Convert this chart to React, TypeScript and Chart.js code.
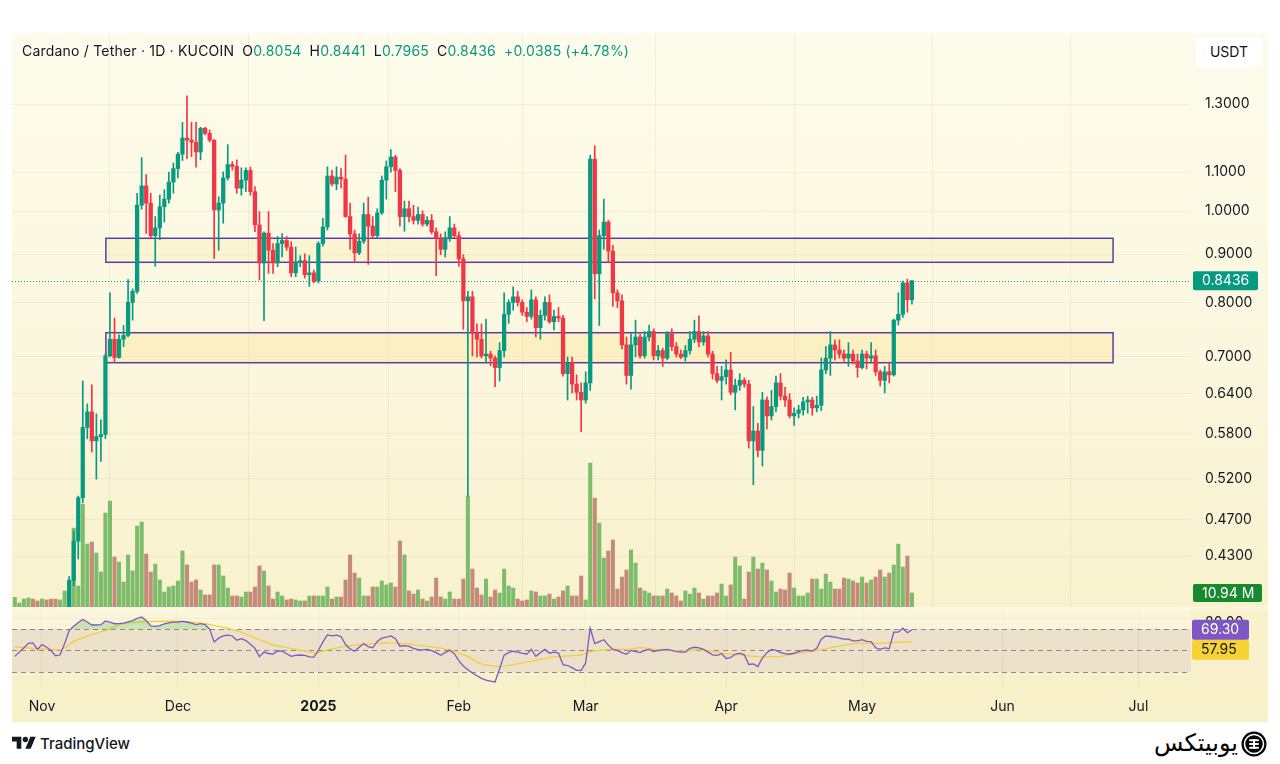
import React, { useEffect, useRef } from "react";
import { Chart, registerables } from "chart.js";

Chart.register(...registerables);

// ---------- data (day index 0 = 2024-11-01, first candle = 2024-10-26) ----------
const FIRST_DAY = -6;

const open = [
  0.343, 0.350, 0.352, 0.358, 0.362, 0.355, 0.336, 0.338, 0.330, 0.322,
  0.318, 0.336, 0.376, 0.405, 0.446, 0.496, 0.589, 0.612, 0.570, 0.576,
  0.579, 0.702, 0.731, 0.699, 0.731, 0.738, 0.800, 0.822, 1.015, 1.064,
  1.020, 0.942, 0.960, 1.011, 1.030, 1.074, 1.110, 1.150, 1.196, 1.190,
  1.184, 1.156, 1.225, 1.210, 1.190, 1.003, 1.020, 1.085, 1.121, 1.116,
  1.058, 1.079, 1.105, 1.049, 0.967, 0.881, 0.948, 0.909, 0.881, 0.924,
  0.931, 0.916, 0.860, 0.882, 0.886, 0.856, 0.860, 0.843, 0.924, 0.962,
  1.090, 1.069, 1.087, 1.082, 0.987, 0.946, 0.903, 0.929, 0.992, 0.964,
  0.942, 0.996, 1.079, 1.115, 1.142, 1.105, 0.987, 1.006, 0.987, 0.978,
  0.992, 0.969, 0.978, 0.951, 0.937, 0.911, 0.937, 0.960, 0.942, 0.890,
  0.803, 0.811, 0.742, 0.731, 0.702, 0.705, 0.698, 0.682, 0.711, 0.777,
  0.800, 0.811, 0.800, 0.781, 0.773, 0.805, 0.752, 0.775, 0.800, 0.763,
  0.773, 0.770, 0.672, 0.690, 0.655, 0.642, 0.630, 0.657, 1.136, 0.858,
  0.942, 0.974, 0.907, 0.819, 0.803, 0.721, 0.669, 0.721, 0.735, 0.702,
  0.735, 0.745, 0.702, 0.711, 0.698, 0.741, 0.718, 0.705, 0.700, 0.711,
  0.731, 0.745, 0.726, 0.737, 0.705, 0.672, 0.661, 0.667, 0.678, 0.642,
  0.653, 0.661, 0.655, 0.570, 0.584, 0.557, 0.630, 0.606, 0.620, 0.657,
  0.636, 0.630, 0.606, 0.610, 0.615, 0.627, 0.630, 0.618, 0.622, 0.678,
  0.698, 0.721, 0.712, 0.705, 0.698, 0.705, 0.693, 0.682, 0.705, 0.698,
  0.702, 0.675, 0.661, 0.675, 0.670, 0.766, 0.777, 0.839, 0.8054,
];

const high = [
  0.352, 0.355, 0.360, 0.366, 0.364, 0.357, 0.342, 0.340, 0.334, 0.326,
  0.338, 0.378, 0.409, 0.457, 0.498, 0.660, 0.624, 0.654, 0.609, 0.600,
  0.706, 0.819, 0.770, 0.739, 0.756, 0.846, 0.827, 1.045, 1.140, 1.094,
  1.045, 0.987, 1.040, 1.054, 1.100, 1.125, 1.155, 1.243, 1.326, 1.243,
  1.243, 1.228, 1.228, 1.220, 1.192, 1.036, 1.101, 1.177, 1.129, 1.134,
  1.112, 1.112, 1.114, 1.062, 0.999, 0.951, 0.999, 0.924, 0.940, 0.947,
  0.940, 0.928, 0.916, 0.897, 0.901, 0.897, 0.866, 0.928, 0.983, 1.115,
  1.105, 1.115, 1.110, 1.147, 1.020, 0.955, 0.946, 1.020, 1.035, 0.987,
  1.006, 1.090, 1.131, 1.163, 1.147, 1.110, 1.025, 1.025, 1.015, 1.010,
  1.001, 0.987, 0.992, 0.960, 0.946, 0.951, 0.987, 0.969, 0.951, 0.899,
  0.822, 0.822, 0.759, 0.759, 0.768, 0.710, 0.702, 0.725, 0.819, 0.805,
  0.831, 0.822, 0.805, 0.790, 0.825, 0.811, 0.785, 0.811, 0.815, 0.785,
  0.790, 0.775, 0.700, 0.700, 0.670, 0.657, 0.675, 1.147, 1.174, 0.955,
  1.030, 0.978, 0.920, 0.825, 0.815, 0.735, 0.741, 0.766, 0.740, 0.745,
  0.757, 0.750, 0.720, 0.715, 0.745, 0.750, 0.725, 0.712, 0.720, 0.745,
  0.766, 0.774, 0.745, 0.745, 0.710, 0.684, 0.684, 0.695, 0.708, 0.663,
  0.672, 0.665, 0.661, 0.620, 0.595, 0.642, 0.635, 0.645, 0.668, 0.672,
  0.650, 0.640, 0.618, 0.622, 0.634, 0.636, 0.634, 0.636, 0.698, 0.718,
  0.745, 0.730, 0.730, 0.712, 0.725, 0.712, 0.705, 0.712, 0.710, 0.725,
  0.712, 0.678, 0.684, 0.690, 0.768, 0.819, 0.843, 0.847, 0.8441,
];

const low = [
  0.340, 0.346, 0.349, 0.354, 0.350, 0.333, 0.330, 0.326, 0.318, 0.314,
  0.316, 0.334, 0.372, 0.400, 0.427, 0.490, 0.573, 0.555, 0.519, 0.542,
  0.573, 0.700, 0.691, 0.698, 0.718, 0.735, 0.766, 0.818, 1.005, 0.947,
  0.937, 0.874, 0.933, 0.974, 1.020, 1.045, 1.085, 1.132, 1.137, 1.143,
  1.114, 1.134, 1.205, 1.185, 0.891, 0.909, 0.971, 1.079, 1.106, 1.045,
  1.040, 1.049, 1.040, 0.951, 0.845, 0.765, 0.859, 0.859, 0.873, 0.894,
  0.909, 0.852, 0.852, 0.873, 0.849, 0.832, 0.839, 0.839, 0.918, 0.955,
  1.064, 1.054, 1.059, 0.985, 0.911, 0.882, 0.899, 0.924, 0.878, 0.937,
  0.937, 0.992, 1.030, 1.100, 1.049, 0.964, 0.952, 0.974, 0.969, 0.969,
  0.964, 0.964, 0.946, 0.854, 0.899, 0.894, 0.929, 0.937, 0.874, 0.749,
  0.498, 0.702, 0.700, 0.698, 0.690, 0.685, 0.651, 0.660, 0.700, 0.760,
  0.785, 0.793, 0.775, 0.763, 0.768, 0.735, 0.731, 0.766, 0.760, 0.748,
  0.763, 0.668, 0.630, 0.641, 0.630, 0.583, 0.625, 0.645, 0.807, 0.756,
  0.911, 0.882, 0.792, 0.790, 0.714, 0.655, 0.647, 0.700, 0.698, 0.698,
  0.728, 0.695, 0.695, 0.684, 0.695, 0.711, 0.700, 0.697, 0.693, 0.705,
  0.725, 0.718, 0.720, 0.700, 0.663, 0.657, 0.630, 0.655, 0.638, 0.615,
  0.645, 0.650, 0.560, 0.512, 0.548, 0.536, 0.587, 0.600, 0.612, 0.630,
  0.620, 0.603, 0.592, 0.603, 0.607, 0.610, 0.607, 0.612, 0.614, 0.672,
  0.669, 0.695, 0.698, 0.693, 0.684, 0.688, 0.666, 0.680, 0.680, 0.690,
  0.669, 0.652, 0.641, 0.657, 0.668, 0.757, 0.771, 0.781, 0.7965,
];

const close = [
  0.350, 0.352, 0.358, 0.362, 0.355, 0.336, 0.338, 0.330, 0.322, 0.318,
  0.336, 0.376, 0.405, 0.446, 0.496, 0.589, 0.612, 0.570, 0.576, 0.579,
  0.702, 0.731, 0.699, 0.731, 0.738, 0.800, 0.822, 1.015, 1.064, 1.020,
  0.942, 0.960, 1.011, 1.030, 1.074, 1.110, 1.150, 1.196, 1.190, 1.184,
  1.156, 1.225, 1.210, 1.190, 1.003, 1.020, 1.085, 1.121, 1.116, 1.058,
  1.079, 1.105, 1.049, 0.967, 0.881, 0.948, 0.909, 0.881, 0.924, 0.931,
  0.916, 0.860, 0.882, 0.886, 0.856, 0.860, 0.843, 0.924, 0.962, 1.090,
  1.069, 1.087, 1.082, 0.987, 0.946, 0.903, 0.929, 0.992, 0.964, 0.942,
  0.996, 1.079, 1.115, 1.142, 1.105, 0.987, 1.006, 0.987, 0.978, 0.992,
  0.969, 0.978, 0.951, 0.937, 0.911, 0.937, 0.960, 0.942, 0.890, 0.803,
  0.811, 0.742, 0.731, 0.702, 0.705, 0.698, 0.682, 0.711, 0.777, 0.800,
  0.811, 0.800, 0.781, 0.773, 0.805, 0.752, 0.775, 0.800, 0.763, 0.773,
  0.770, 0.672, 0.690, 0.655, 0.642, 0.630, 0.657, 1.136, 0.858, 0.942,
  0.974, 0.907, 0.819, 0.803, 0.721, 0.669, 0.721, 0.735, 0.702, 0.735,
  0.745, 0.702, 0.711, 0.698, 0.741, 0.718, 0.705, 0.700, 0.711, 0.731,
  0.745, 0.726, 0.737, 0.705, 0.672, 0.661, 0.667, 0.678, 0.642, 0.653,
  0.661, 0.655, 0.570, 0.584, 0.557, 0.630, 0.606, 0.620, 0.657, 0.636,
  0.630, 0.606, 0.610, 0.615, 0.627, 0.630, 0.618, 0.622, 0.678, 0.698,
  0.721, 0.712, 0.705, 0.698, 0.705, 0.693, 0.682, 0.705, 0.698, 0.702,
  0.675, 0.661, 0.675, 0.670, 0.766, 0.777, 0.839, 0.8051, 0.8436,
];

// volume in millions ADA
const volume = [
  7.5, 3.1, 6.2, 7.0, 6.2, 4.7, 6.2, 5.5, 6.2, 6.2,
  5.5, 12.5, 21.1, 61.6, 16.4, 80.3, 49.1, 50.7, 42.1, 27.3,
  73.3, 82.7, 39.0, 35.1, 19.5, 40.6, 28.1, 63.2, 66.3, 41.3,
  27.3, 33.5, 21.1, 11.7, 15.6, 16.4, 20.3, 43.7, 32.8, 19.5,
  21.1, 13.3, 9.4, 9.4, 32.8, 32.8, 24.2, 14.8, 8.6, 8.6,
  7.8, 11.7, 11.7, 15.6, 32.0, 28.1, 16.4, 6.2, 11.7, 8.6,
  5.5, 6.2, 5.5, 4.7, 4.7, 8.6, 8.6, 8.6, 8.6, 15.6,
  6.2, 7.8, 7.8, 21.1, 40.6, 26.5, 22.6, 8.6, 8.6, 15.6,
  15.6, 20.3, 17.2, 18.7, 15.6, 51.5, 40.6, 12.5, 10.1, 13.3,
  6.2, 4.7, 7.8, 22.6, 7.8, 6.2, 11.7, 6.2, 6.2, 21.8,
  86.6, 29.6, 14.8, 9.4, 21.8, 7.8, 13.3, 10.9, 29.6, 16.4,
  14.8, 6.2, 4.7, 5.5, 12.5, 11.7, 8.6, 8.6, 10.1, 6.2,
  7.8, 12.5, 16.4, 8.6, 8.6, 24.2, 5.5, 112.3, 85.0, 65.5,
  38.2, 43.7, 52.3, 14.0, 23.4, 28.9, 44.5, 34.3, 14.8, 12.5,
  10.9, 8.6, 8.6, 8.6, 14.0, 10.9, 8.6, 4.7, 12.5, 10.1,
  14.8, 10.9, 6.2, 8.6, 8.6, 10.9, 17.9, 8.6, 17.2, 39.0,
  32.0, 6.2, 27.3, 39.0, 29.6, 34.3, 28.9, 20.3, 11.7, 14.0,
  13.3, 26.5, 14.8, 8.6, 8.6, 10.9, 21.8, 21.8, 14.0, 25.7,
  19.5, 14.0, 14.0, 22.6, 21.8, 20.3, 18.7, 23.4, 18.7, 21.1,
  23.4, 28.9, 23.4, 26.5, 32.8, 49.1, 31.2, 39.8, 10.94,
];

const rsi = [
  44.5, 48.5, 52.5, 56.7, 57, 51, 55.5, 53, 50, 45,
  46, 56.4, 68.5, 72.5, 76, 78.8, 76.5, 73.7, 73.7, 74,
  77.5, 76.5, 74.9, 75, 75.5, 76.6, 77.8, 80, 81.2, 78,
  72.8, 72.5, 73.2, 74.8, 75.6, 76.3, 76.5, 77, 76.5, 75.5,
  74, 75, 74, 70, 58, 61.5, 63.5, 64.3, 63.5, 59.5,
  61, 59.2, 55.8, 52, 44.2, 48.5, 47.2, 46.6, 49.5, 49.4,
  47, 44.5, 45.4, 45.8, 45.5, 44, 43.8, 50, 58, 64.5,
  63.6, 64.3, 63, 55.5, 51.5, 49.3, 53, 56.4, 53.5, 52.5,
  58.5, 61.5, 62.5, 63.5, 61, 54, 54.5, 53.9, 52, 50.8,
  50.5, 51, 49.8, 48, 45.5, 48, 50.3, 47, 40.5, 35.5,
  32, 29, 26.5, 24, 22.5, 21.5, 20.7, 33, 45.7, 48,
  49.3, 48.5, 47.5, 46.5, 51, 44.6, 48, 51, 47.5, 48.5,
  47.5, 36.8, 36, 34, 31.5, 31.5, 38.6, 70.7, 56.4, 58.2,
  60, 55, 51, 50, 48, 46.5, 50, 49, 48, 50,
  51, 49, 50, 50.5, 51, 50, 49, 48.5, 48.5, 52,
  53, 52.5, 51, 48.5, 46, 45.5, 47, 42.5, 43.5, 46.5,
  47.5, 46, 37, 37.5, 35, 43, 48, 51, 50, 48,
  47, 46.5, 47.5, 49, 50, 50.3, 49.5, 52, 60.5, 63.5,
  63, 62.4, 61.5, 60.5, 60.5, 59, 59, 60, 58.5, 58.2,
  52.5, 51, 52.5, 51.8, 67, 67, 70.7, 66.5, 69.3,
];

const rsiMa = [
  53.4, 53, 52.7, 52.3, 52, 51.8, 51.5, 51.2, 51, 50.8,
  50.6, 52.4, 55.6, 58.5, 60.2, 61.8, 63.4, 64.9, 66.1, 67.3,
  68.5, 70.2, 71.9, 73.7, 75.3, 75.7, 76, 76.4, 76.7, 76.8,
  76.9, 77, 77.1, 77.2, 77.2, 77.2, 77.1, 77, 76.8, 76.4,
  76, 75.5, 75, 74.1, 73.3, 72.4, 71.5, 70.5, 69.4, 68.3,
  67.1, 65.3, 63.6, 61.8, 60, 58.4, 56.7, 55.1, 54.3, 53.4,
  52.6, 51.8, 51, 50.3, 49.4, 48.5, 47.7, 48.3, 49.5, 50.6,
  51.4, 52.3, 53.1, 53.9, 54.5, 54.9, 55.3, 55.7, 56, 56.3,
  56.6, 56.9, 57, 56.8, 56.7, 56.5, 56.4, 55.9, 55.4, 54.9,
  54.5, 54, 53.3, 52.7, 52.1, 51.5, 51.1, 49.5, 47.6, 46,
  44.5, 42, 39.5, 37.3, 36.5, 36, 35.5, 35, 35.5, 36.2,
  36.8, 37.5, 38.5, 39.5, 40.2, 41, 41.8, 42.5, 43.5, 44,
  44.3, 44.6, 44.9, 45.2, 45.5, 45.8, 47.3, 48.8, 49.7, 50.2,
  50.6, 50.9, 51, 51, 51, 51, 51.6, 52.2, 52.7, 52.5,
  51.9, 51.3, 50.7, 50.3, 50, 49.8, 49.6, 49.4, 49.6, 50,
  50.4, 50.8, 50.8, 50, 49.2, 48.4, 47.6, 47.1, 46.7, 46.3,
  45.9, 45.4, 45, 44.6, 44.2, 44, 44.1, 44.3, 44.3, 44.6,
  45.3, 46.2, 46.9, 47.5, 48.1, 48.7, 49.3, 50.1, 51, 51.6,
  52.4, 53.3, 54.1, 54.9, 55.7, 56.4, 56.6, 56.6, 56.6, 56.5,
  56.6, 56.8, 57, 57.2, 57.5, 57.6, 57.8, 57.9, 57.95,
];

const monthTickDays = [0, 30, 61, 92, 120, 151, 181, 212, 242];
const monthTickLabels = ["Nov", "Dec", "2025", "Feb", "Mar", "Apr", "May", "Jun", "Jul"];
const priceTicks = [1.3, 1.1, 1.0, 0.9, 0.8, 0.7, 0.64, 0.58, 0.52, 0.47, 0.43];
const rsiTicks = [80];
const rsiLevels = [70, 50, 30];

// support / resistance zones (price, day index)
const zoneTop = [0.9359, 0.7428];
const zoneBottom = [0.8825, 0.6902];
const zoneStart = [14.1, 14.1];
const zoneEnd = [236.4, 236.4];

// ---------- view / style ----------
const X_MIN = -6.62;
const X_MAX = 253.6;
const PRICE_MIN = 0.3796;
const PRICE_MAX = 1.5468;
const VOL_MAX = 448;
const RSI_MIN = 15.1;
const RSI_MAX = 88.6;

const FONT = 'Inter, "Noto Sans", "DejaVu Sans", sans-serif';
const TEXT = "#131722";
const UP = "#089981";
const DOWN = "#f23645";
const VOL_UP = "#7dbc6a";
const VOL_DOWN = "#c48a7a";
const ZONE_LINE = "#5a3ea4";
const ZONE_FILL = ["rgba(250,232,150,0.2)", "rgba(250,228,140,0.36)"];
const GRID = "rgba(140,125,60,0.09)";
const AXIS_W = 77;

function roundRect(ctx: any, x: number, y: number, w: number, h: number, r: number) {
  ctx.beginPath();
  ctx.moveTo(x + r, y);
  ctx.lineTo(x + w - r, y);
  ctx.quadraticCurveTo(x + w, y, x + w, y + r);
  ctx.lineTo(x + w, y + h - r);
  ctx.quadraticCurveTo(x + w, y + h, x + w - r, y + h);
  ctx.lineTo(x + r, y + h);
  ctx.quadraticCurveTo(x, y + h, x, y + h - r);
  ctx.lineTo(x, y + r);
  ctx.quadraticCurveTo(x, y, x + r, y);
  ctx.closePath();
}

function axisBox(ctx: any, x: number, yc: number, w: number, h: number, bg: string, fg: string, text: string) {
  ctx.save();
  ctx.fillStyle = bg;
  roundRect(ctx, x, yc - h / 2, w, h, 2);
  ctx.fill();
  ctx.fillStyle = fg;
  ctx.font = `14px ${FONT}`;
  ctx.textBaseline = "middle";
  ctx.textAlign = "left";
  ctx.fillText(text, x + 9, yc + 0.5);
  ctx.restore();
}

const fitVertical = (s: any) => {
  s.width = AXIS_W;
  s.paddingTop = 0;
  s.paddingBottom = 0;
};

export default function App() {
  const priceRef = useRef<HTMLCanvasElement>(null);
  const rsiRef = useRef<HTMLCanvasElement>(null);

  const n = Math.min(open.length, high.length, low.length, close.length, volume.length);
  const last = n - 1;
  const chg = close[last] - close[last - 1];
  const pct = (chg / close[last - 1]) * 100;

  useEffect(() => {
    document.body.style.margin = "0";
    Chart.defaults.font.family = FONT;

    const xs = Array.from({ length: n }, (_, i) => FIRST_DAY + i);
    const isUp = xs.map((_, i) => close[i] >= open[i]);
    const candleColors = isUp.map((u) => (u ? UP : DOWN));
    const volColors = isUp.map((u) => (u ? VOL_UP : VOL_DOWN));
    const wickData = xs.map((x, i) => ({ x, y: [low[i], high[i]] }));
    const bodyData = xs.map((x, i) => ({ x, y: [open[i], close[i]] }));
    const volData = xs.map((x, i) => ({ x, y: volume[i] }));

    const zonePlugin = {
      id: "zones",
      beforeDatasetsDraw(chart: any) {
        const { ctx, scales } = chart;
        ctx.save();
        for (let i = 0; i < zoneTop.length; i++) {
          const x1 = scales.x.getPixelForValue(zoneStart[i]);
          const x2 = scales.x.getPixelForValue(zoneEnd[i]);
          const y1 = scales.y.getPixelForValue(zoneTop[i]);
          const y2 = scales.y.getPixelForValue(zoneBottom[i]);
          ctx.fillStyle = ZONE_FILL[i % ZONE_FILL.length];
          ctx.fillRect(x1, y1, x2 - x1, y2 - y1);
          ctx.strokeStyle = ZONE_LINE;
          ctx.lineWidth = 1.5;
          ctx.strokeRect(x1, y1, x2 - x1, y2 - y1);
        }
        ctx.restore();
      },
    };

    const lastPricePlugin = {
      id: "lastPrice",
      afterDatasetsDraw(chart: any) {
        const { ctx, chartArea, scales } = chart;
        const y = Math.round(scales.y.getPixelForValue(close[last])) + 0.5;
        ctx.save();
        ctx.strokeStyle = UP;
        ctx.lineWidth = 1;
        ctx.setLineDash([1, 2]);
        ctx.beginPath();
        ctx.moveTo(chartArea.left, y);
        ctx.lineTo(chartArea.right, y);
        ctx.stroke();
        ctx.restore();
      },
      afterDraw(chart: any) {
        const { ctx, chartArea, scales } = chart;
        const yp = scales.y.getPixelForValue(close[last]);
        axisBox(ctx, chartArea.right + 2, yp, 65, 19, UP, "#ffffff", close[last].toFixed(4));
        const yv = scales.yVol.getPixelForValue(volume[last]);
        axisBox(ctx, chartArea.right + 2, yv, 69, 18, "#178a2f", "#ffffff", `${volume[last].toFixed(2)} M`);
      },
    };

    const priceChart = new Chart(priceRef.current as any, {
      type: "bar",
      data: {
        datasets: [
          {
            label: "wick",
            data: wickData as any,
            backgroundColor: candleColors,
            barThickness: 1,
            grouped: false,
            order: 2,
            clip: 0,
            yAxisID: "y",
          } as any,
          {
            label: "body",
            data: bodyData as any,
            backgroundColor: candleColors,
            barThickness: 3.6,
            minBarLength: 1,
            grouped: false,
            order: 1,
            clip: 0,
            yAxisID: "y",
          } as any,
          {
            label: "volume",
            data: volData as any,
            backgroundColor: volColors,
            barThickness: 3.4,
            grouped: false,
            order: 3,
            clip: 0,
            yAxisID: "yVol",
          } as any,
        ],
      },
      options: {
        responsive: false,
        animation: false,
        events: [],
        layout: { padding: 0 },
        plugins: { legend: { display: false }, tooltip: { enabled: false } },
        scales: {
          x: {
            type: "linear",
            min: X_MIN,
            max: X_MAX,
            bounds: "data",
            offset: false,
            afterBuildTicks: (s: any) => {
              s.ticks = monthTickDays.map((v) => ({ value: v }));
            },
            afterFit: (s: any) => {
              s.height = 0;
              s.paddingLeft = 0;
              s.paddingRight = 0;
            },
            ticks: { display: false },
            grid: { color: GRID, drawTicks: false },
            border: { display: false },
          },
          y: {
            type: "logarithmic",
            position: "right",
            min: PRICE_MIN,
            max: PRICE_MAX,
            bounds: "data",
            afterBuildTicks: (s: any) => {
              s.ticks = priceTicks.map((v) => ({ value: v }));
            },
            afterFit: fitVertical,
            ticks: {
              callback: (v: any) => Number(v).toFixed(4),
              color: TEXT,
              font: { size: 14, family: FONT },
              padding: 14,
              autoSkip: false,
            },
            grid: { color: GRID, drawTicks: false },
            border: { display: false },
          },
          yVol: { type: "linear", display: false, min: 0, max: VOL_MAX },
        },
      } as any,
      plugins: [zonePlugin, lastPricePlugin],
    });

    const rsiData = xs.map((x, i) => ({ x, y: rsi[i] }));
    const maData = xs.map((x, i) => ({ x, y: rsiMa[i] }));

    const rsiBandPlugin = {
      id: "rsiBand",
      beforeDatasetsDraw(chart: any) {
        const { ctx, chartArea, scales } = chart;
        const y70 = scales.y.getPixelForValue(rsiLevels[0]);
        const y30 = scales.y.getPixelForValue(rsiLevels[2]);
        ctx.save();
        ctx.fillStyle = "rgba(255,255,250,0.45)";
        ctx.fillRect(0, 0, chart.width, 2);
        ctx.fillStyle = "rgba(255,255,250,0.3)";
        ctx.fillRect(chartArea.left, chartArea.top, chartArea.right - chartArea.left, y70 - chartArea.top);
        ctx.fillStyle = "rgba(126,87,194,0.1)";
        ctx.fillRect(chartArea.left, y70, chartArea.right - chartArea.left, y30 - y70);
        ctx.strokeStyle = "rgba(120,123,134,0.85)";
        ctx.lineWidth = 1;
        ctx.setLineDash([5, 4]);
        for (const lv of rsiLevels) {
          const y = Math.round(scales.y.getPixelForValue(lv)) + 0.5;
          ctx.beginPath();
          ctx.moveTo(chartArea.left, y);
          ctx.lineTo(chartArea.right, y);
          ctx.stroke();
        }
        ctx.restore();
      },
      afterDraw(chart: any) {
        const { ctx, chartArea, scales } = chart;
        const yr = scales.y.getPixelForValue(rsi[last]);
        const ym = Math.max(scales.y.getPixelForValue(rsiMa[last]), yr + 20);
        axisBox(ctx, chartArea.right + 1, ym, 57, 20, "#f7d234", TEXT, rsiMa[last].toFixed(2));
        axisBox(ctx, chartArea.right + 1, yr, 57, 20, "#7e57c2", "#ffffff", rsi[last].toFixed(2));
      },
    };

    const rsiChart = new Chart(rsiRef.current as any, {
      type: "line",
      data: {
        datasets: [
          {
            data: rsiData as any,
            borderColor: "#7e57c2",
            borderWidth: 1.3,
            pointRadius: 0,
            tension: 0,
            order: 0,
            fill: {
              target: { value: rsiLevels[0] },
              above: "rgba(110,195,100,0.35)",
              below: "rgba(0,0,0,0)",
            },
          } as any,
          {
            data: maData as any,
            borderColor: "#f5cd3a",
            borderWidth: 1.3,
            pointRadius: 0,
            tension: 0,
            order: 1,
            fill: false,
          } as any,
        ],
      },
      options: {
        responsive: false,
        animation: false,
        events: [],
        layout: { padding: { top: 2, left: 0, right: 0, bottom: 0 } },
        plugins: { legend: { display: false }, tooltip: { enabled: false } },
        scales: {
          x: {
            type: "linear",
            min: X_MIN,
            max: X_MAX,
            bounds: "data",
            offset: false,
            afterBuildTicks: (s: any) => {
              s.ticks = monthTickDays.map((v) => ({ value: v }));
            },
            afterFit: (s: any) => {
              s.height = 34;
              s.paddingLeft = 0;
              s.paddingRight = 0;
            },
            ticks: {
              callback: (v: any) => {
                const k = monthTickDays.indexOf(Number(v));
                return k >= 0 ? monthTickLabels[k] : "";
              },
              color: TEXT,
              padding: 10,
              maxRotation: 0,
              autoSkip: false,
              font: (c: any) => ({
                size: 14,
                family: FONT,
                weight: c.tick && c.tick.value === 61 ? "bold" : "normal",
              }),
            },
            grid: { color: GRID, drawTicks: false },
            border: { display: false },
          },
          y: {
            type: "linear",
            position: "right",
            min: RSI_MIN,
            max: RSI_MAX,
            bounds: "data",
            afterBuildTicks: (s: any) => {
              s.ticks = rsiTicks.map((v) => ({ value: v }));
            },
            afterFit: fitVertical,
            ticks: {
              callback: (v: any) => Number(v).toFixed(2),
              color: TEXT,
              font: { size: 14, family: FONT },
              padding: 14,
              labelOffset: 5,
            },
            grid: { color: GRID, drawTicks: false },
            border: { display: false },
          },
        },
      } as any,
      plugins: [rsiBandPlugin],
    });

    return () => {
      priceChart.destroy();
      rsiChart.destroy();
    };
  }, []);

  const lbl = { color: TEXT };
  const val = { color: UP };
  const gap = { marginLeft: 8 };

  return (
    <div
      style={{
        position: "fixed",
        left: 0,
        top: 0,
        width: 1280,
        height: 764,
        background: "#ffffff",
        overflow: "hidden",
        fontFamily: FONT,
      }}
    >
      <div
        style={{
          position: "absolute",
          left: 12,
          top: 33,
          width: 1256,
          height: 689,
          background: "linear-gradient(180deg, #fdfbeb 0%, #fbf7df 45%, #f9f2cf 80%, #f8f0c8 100%)",
        }}
      />
      <canvas
        ref={priceRef}
        width={1256}
        height={574}
        style={{ position: "absolute", left: 12, top: 33, width: 1256, height: 574 }}
      />
      <canvas
        ref={rsiRef}
        width={1256}
        height={115}
        style={{ position: "absolute", left: 12, top: 607, width: 1256, height: 115 }}
      />
      <div
        style={{
          position: "absolute",
          left: 22,
          top: 42,
          fontSize: 14,
          lineHeight: "18px",
          letterSpacing: 0.2,
          whiteSpace: "nowrap",
          color: TEXT,
        }}
      >
        <span>Cardano / Tether · 1D · KUCOIN</span>
        <span style={gap}>
          <span style={lbl}>O</span>
          <span style={val}>{open[last].toFixed(4)}</span>
        </span>
        <span style={gap}>
          <span style={lbl}>H</span>
          <span style={val}>{high[last].toFixed(4)}</span>
        </span>
        <span style={gap}>
          <span style={lbl}>L</span>
          <span style={val}>{low[last].toFixed(4)}</span>
        </span>
        <span style={gap}>
          <span style={lbl}>C</span>
          <span style={val}>{close[last].toFixed(4)}</span>
        </span>
        <span style={{ ...gap, color: UP }}>
          {`${chg >= 0 ? "+" : ""}${chg.toFixed(4)} (${pct >= 0 ? "+" : ""}${pct.toFixed(2)}%)`}
        </span>
      </div>
      <div
        style={{
          position: "absolute",
          left: 1196,
          top: 37,
          width: 66,
          height: 30,
          background: "#ffffff",
          borderRadius: 5,
          fontSize: 14,
          lineHeight: "30px",
          textAlign: "center",
          color: TEXT,
        }}
      >
        USDT
      </div>
      <div style={{ position: "absolute", left: 12, top: 734, display: "flex", alignItems: "center" }}>
        <svg width="24" height="19" viewBox="0 0 36 28">
          <path d="M14 22H7V11H0V4h14v18zM28 22h-8l7.5-18h8L28 22z" fill="#131722" />
          <circle cx="20" cy="8" r="4" fill="#131722" />
        </svg>
        <span style={{ marginLeft: 4, fontSize: 15, color: TEXT, fontWeight: 500 }}>TradingView</span>
      </div>
      <div
        style={{
          position: "absolute",
          right: 42,
          top: 727,
          fontFamily: '"DejaVu Sans", sans-serif',
          fontSize: 24,
          lineHeight: "32px",
          color: "#000",
          direction: "rtl",
        }}
      >
        یوبیتکس
      </div>
      <svg
        width="26"
        height="26"
        viewBox="0 0 26 26"
        style={{ position: "absolute", left: 1241, top: 731 }}
      >
        <circle cx="13" cy="13" r="12.5" fill="#000" />
        <circle cx="13" cy="13" r="9.5" fill="none" stroke="#fff" strokeWidth="1.6" />
        <rect x="8" y="8.2" width="10" height="2" rx="1" fill="#fff" />
        <rect x="8" y="12" width="10" height="2" rx="1" fill="#fff" />
        <rect x="8" y="15.8" width="10" height="2" rx="1" fill="#fff" />
        <rect x="12" y="8.2" width="2" height="9.6" fill="#fff" />
      </svg>
    </div>
  );
}
